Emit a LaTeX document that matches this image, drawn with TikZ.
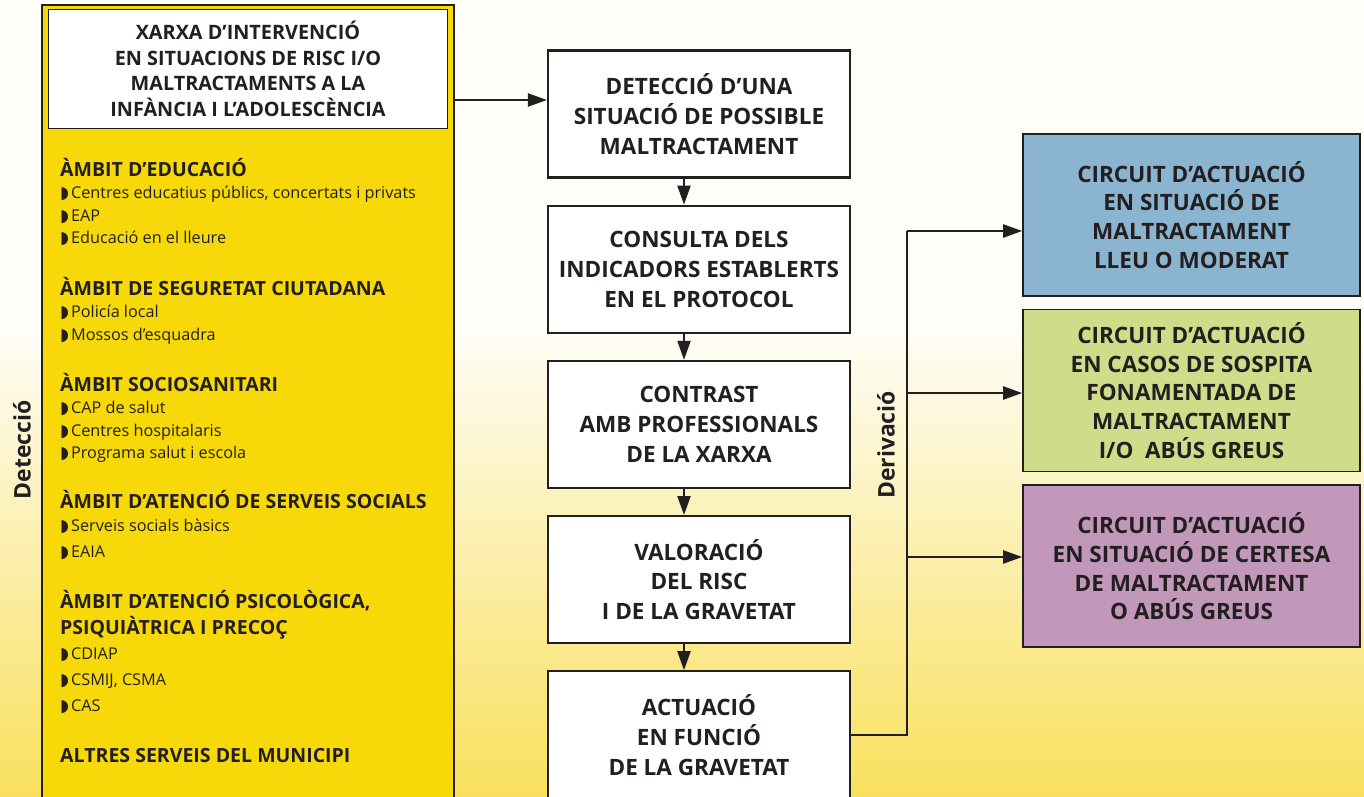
\documentclass[tikz,border=0pt]{standalone}
\usepackage{fontspec}
\setmainfont{Open Sans}
\newfontfamily\symfont{DejaVu Sans}
\usetikzlibrary{arrows.meta,positioning}

\definecolor{inkdark}{RGB}{35,31,32}
\definecolor{panelyellow}{RGB}{247,217,10}
\definecolor{paper}{RGB}{254,253,247}
\definecolor{paperyellow}{RGB}{249,224,92}
\definecolor{circuitblue}{RGB}{138,180,208}
\definecolor{circuitgreen}{RGB}{207,220,138}
\definecolor{circuitpurple}{RGB}{193,151,186}

\newcommand{\itm}{{\symfont\fontsize{17}{15}\selectfont ◗}\hspace{2bp}}
\newcommand{\hd}[1]{{\fontsize{19.6}{18}\selectfont\bfseries\rule{0pt}{18bp}#1}}

\tikzset{
  stepbox/.style={draw=inkdark, line width=2.2bp, fill=white, minimum width=302bp,
    minimum height=127bp, align=center, inner sep=0pt,
    font=\fontsize{22.6}{30}\selectfont\bfseries},
  circuitbox/.style={draw=inkdark, line width=1.6bp, minimum width=337bp,
    minimum height=162bp, align=center, inner sep=0pt,
    font=\fontsize{22.6}{29}\selectfont\bfseries},
  ambit/.style={anchor=north west, align=left, inner sep=0pt,
    font=\fontsize{16.3}{22.5}\selectfont},
  flow/.style={draw=inkdark, line width=2.2bp, -{Triangle[length=19bp,width=13bp]}},
  link/.style={draw=inkdark, line width=2.2bp},
  sidelabel/.style={rotate=90, font=\fontsize{23}{23}\selectfont\bfseries, text=inkdark}
}

\begin{document}
\begin{tikzpicture}[x=1bp, y=-1bp, node distance=26bp, text=inkdark]
		\useasboundingbox (0,0) rectangle (1364,796);
		% background
		\fill[paper] (0,0) rectangle (1364,330);
		\shade[top color=paper, bottom color=paperyellow] (0,329) rectangle (1364,796);
		
		% left panel
		\node[draw=inkdark, line width=2.4bp, fill=panelyellow, minimum width=412bp,
		  minimum height=810bp, inner sep=0pt] (panel) at (248,410) {};
		\node[draw=inkdark, line width=1bp, fill=white, minimum width=398bp,
		  minimum height=118bp, align=center, inner sep=0pt,
		  font=\fontsize{19.9}{25.7}\selectfont\bfseries] (xarxa) at (248,69)
		  {XARXA D’INTERVENCIÓ\\EN SITUACIONS DE RISC I/O\\MALTRACTAMENTS A LA\\INFÀNCIA I L’ADOLESCÈNCIA};
		
		\node[ambit] (educacio) at (60,158) {\hd{ÀMBIT D’EDUCACIÓ}\\
		  \itm Centres educatius públics, concertats i privats\\ \itm EAP\\ \itm Educació en el lleure};
		\node[ambit] (seguretat) at (60,277) {\hd{ÀMBIT DE SEGURETAT CIUTADANA}\\
		  \itm Policía local\\ \itm Mossos d’esquadra};
		\node[ambit] (sociosanitari) at (60,373) {\hd{ÀMBIT SOCIOSANITARI}\\
		  \itm CAP de salut\\ \itm Centres hospitalaris\\ \itm Programa salut i escola};
		\node[ambit, font=\fontsize{16.3}{23}\selectfont] (socials) at (60,490) {\hd{ÀMBIT D’ATENCIÓ DE SERVEIS SOCIALS}\\
		  \itm Serveis socials bàsics\\[3bp] \itm EAIA};
		\node[ambit, font=\fontsize{16.3}{25.8}\selectfont] (psico) at (60,590)
		  {\hd{ÀMBIT D’ATENCIÓ PSICOLÒGICA,}\\ \hd{PSIQUIÀTRICA I PRECOÇ}\\
		  \itm CDIAP\\ \itm CSMIJ, CSMA\\ \itm CAS};
		\node[ambit] (altres) at (60,744) {\hd{ALTRES SERVEIS DEL MUNICIPI}};
		
		\node[sidelabel] (deteccio) at (22,450) {Detecció};
		
		% central steps
		\node[stepbox] (detect) at (699,114) {DETECCIÓ D’UNA\\SITUACIÓ DE POSSIBLE\\MALTRACTAMENT};
		\node[stepbox, below=of detect] (consulta) {CONSULTA DELS\\INDICADORS ESTABLERTS\\EN EL PROTOCOL};
		\node[stepbox, below=of consulta] (contrast) {CONTRAST\\AMB PROFESSIONALS\\DE LA XARXA};
		\node[stepbox, below=of contrast] (valoracio) {VALORACIÓ\\DEL RISC\\I DE LA GRAVETAT};
		\node[stepbox, below=of valoracio] (actuacio) {ACTUACIÓ\\EN FUNCIÓ\\DE LA GRAVETAT};
		
		% circuits
		\node[circuitbox, fill=circuitblue] (lleu) at (1191.5,215) {CIRCUIT D’ACTUACIÓ\\EN SITUACIÓ DE\\MALTRACTAMENT\\LLEU O MODERAT};
		\node[circuitbox, fill=circuitgreen, below=12bp of lleu] (sospita) {CIRCUIT D’ACTUACIÓ\\EN CASOS DE SOSPITA\\FONAMENTADA DE\\MALTRACTAMENT\\I/O\ \ ABÚS GREUS};
		\node[circuitbox, fill=circuitpurple, below=12bp of sospita] (certesa) {CIRCUIT D’ACTUACIÓ\\EN SITUACIÓ DE CERTESA\\DE MALTRACTAMENT\\O ABÚS GREUS};
		
		\node[sidelabel] (derivacio) at (886,445) {Derivació};
		
		% arrows
		\draw[flow] (panel.east |- 0,100) -- (detect.west |- 0,100);
		\draw[flow] ([xshift=-15bp]detect.south) -- ([xshift=-15bp]consulta.north);
		\draw[flow] ([xshift=-15bp]consulta.south) -- ([xshift=-15bp]contrast.north);
		\draw[flow] ([xshift=-15bp]contrast.south) -- ([xshift=-15bp]valoracio.north);
		\draw[flow] ([xshift=-15bp]valoracio.south) -- ([xshift=-15bp]actuacio.north);
		
		\coordinate (d1) at (907,231);
		\coordinate (d2) at (907,393);
		\coordinate (d3) at (907,557);
		\draw[link] (actuacio.east) -| (d1);
		\draw[flow] (d1) -- (d1 -| lleu.west);
		\draw[flow] (d2) -- (d2 -| sospita.west);
		\draw[flow] (d3) -- (d3 -| certesa.west);
	\end{tikzpicture}
\end{document}
